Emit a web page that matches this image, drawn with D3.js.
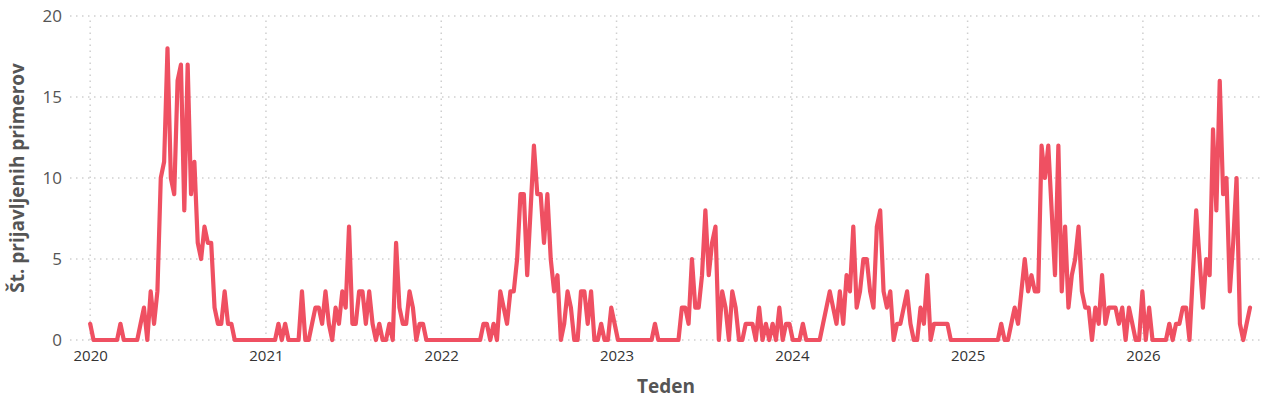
<!DOCTYPE html>
<meta charset="utf-8">
<html>
<head>
	<!-- Load d3.js -->
	<script src="https://d3js.org/d3.v7.min.js"></script>
	<style>
		body { margin: 0; background: #fff; }
		text { font-family: "Open Sans", "DejaVu Sans", sans-serif; }
	</style>
</head>
<body>

<div id="graf"></div>

<script>

// weekly case counts, one array per year (first week = 1 Jan 2020)
var w2020 = [1,0,0,0,0,0,0,0,0,1, 0,0,0,0,0,1,2,0,3,1, 3,10,11,18,10,9,16,17,8,17, 9,11,6,5,7,6,6,2,1,1, 3,1,1,0,0,0,0,0,0,0, 0,0,0];
var w2021 = [0,0,0,1,0,1,0,0,0,0, 3,0,0,1,2,2,1,3,1,0, 2,1,3,2,7,1,1,3,3,1, 3,1,0,1,0,0,1,0,6,2, 1,1,3,2,0,1,1,0,0,0, 0,0];
var w2022 = [0,0,0,0,0,0,0,0,0,0, 0,0,1,1,0,1,0,3,2,1, 3,3,5,9,9,4,8,12,9,9, 6,9,5,3,4,0,1,3,2,0, 0,3,3,1,3,0,0,1,0,0, 2,1];
var w2023 = [0,0,0,0,0,0,0,0,0,0, 0,1,0,0,0,0,0,0,0,2, 2,1,5,2,2,4,8,4,6,7, 0,3,2,0,3,2,0,0,1,1, 1,0,2,0,1,0,1,0,2,0, 1,1];
var w2024 = [0,0,0,1,0,0,0,0,0,1, 2,3,2,1,3,1,4,3,7,2, 3,5,5,3,2,7,8,3,2,3, 0,1,1,2,3,1,0,0,2,1, 4,0,1,1,1,1,1,0,0,0, 0,0];
var w2025 = [0,0,0,0,0,0,0,0,0,0, 1,0,0,1,2,1,3,5,3,4, 3,3,12,10,12,8,4,12,3,7, 2,4,5,7,3,2,2,0,2,1, 4,1,2,2,2,1,2,0,2,1, 0,0,3];
var w2026 = [0,2,0,0,0,0,0,1,0,1, 1,2,2,0,4,8,5,2,5,4, 13,8,16,9,10,3,6,10,1,0, 1,2];

var years = [2020, 2021, 2022, 2023, 2024, 2025, 2026];
var yTicks = [0, 5, 10, 15, 20];

var startDate = new Date(2020, 0, 1);
var values = [].concat(w2020, w2021, w2022, w2023, w2024, w2025, w2026);
var data = values.map(function(v, i) {
  return { date: d3.timeDay.offset(startDate, 7 * i), value: v };
});

var larghezza = 1277, altezza = 405;
var margin = {top: 16, right: 15, bottom: 65, left: 70};

var svg = d3.select("#graf")
  .append("svg")
    .attr("width", larghezza)
    .attr("height", altezza);

// X scale (time), a bit of padding on both sides
var x = d3.scaleTime()
  .domain([d3.timeDay.offset(startDate, -42), d3.timeDay.offset(data[data.length - 1].date, 25)])
  .range([margin.left, larghezza - margin.right]);

// Y scale
var y = d3.scaleLinear()
  .domain([0, 20])
  .range([altezza - margin.bottom, margin.top]);

// horizontal dotted grid
svg.append("g")
  .selectAll("line")
  .data(yTicks)
  .enter()
  .append("line")
    .attr("x1", x.range()[0])
    .attr("x2", x.range()[1])
    .attr("y1", function(d) { return y(d); })
    .attr("y2", function(d) { return y(d); })
    .attr("stroke", "#cfcfcf")
    .attr("stroke-width", 1.5)
    .attr("stroke-dasharray", "1.5,4.5");

// vertical dotted grid at each year
svg.append("g")
  .selectAll("line")
  .data(years)
  .enter()
  .append("line")
    .attr("x1", function(d) { return x(new Date(d, 0, 1)); })
    .attr("x2", function(d) { return x(new Date(d, 0, 1)); })
    .attr("y1", y(0))
    .attr("y2", y(20))
    .attr("stroke", "#cfcfcf")
    .attr("stroke-width", 1.5)
    .attr("stroke-dasharray", "1.5,4.5");

// Y axis labels
svg.append("g")
  .attr("transform", "translate(" + (margin.left - 8) + ",0)")
  .call(d3.axisLeft(y).tickValues(yTicks).tickSize(0).tickPadding(0))
  .call(function(g) { g.select(".domain").remove(); })
  .selectAll("text")
    .attr("fill", "#555")
    .style("font-size", "17px");

// X axis labels
svg.append("g")
  .attr("transform", "translate(0," + (y(0) + 10) + ")")
  .call(d3.axisBottom(x).tickValues(years.map(function(d) { return new Date(d, 0, 1); }))
    .tickFormat(d3.timeFormat("%Y")).tickSize(0).tickPadding(0))
  .call(function(g) { g.select(".domain").remove(); })
  .selectAll("text")
    .attr("fill", "#333")
    .style("font-size", "15px");

// the line
var linea = d3.line()
  .x(function(d) { return x(d.date); })
  .y(function(d) { return y(d.value); });

svg.append("path")
  .datum(data)
  .attr("fill", "none")
  .attr("stroke", "#ef5062")
  .attr("stroke-width", 4.2)
  .attr("stroke-linejoin", "round")
  .attr("stroke-linecap", "round")
  .attr("d", linea);

// axis titles
svg.append("text")
  .attr("x", (x.range()[0] + x.range()[1]) / 2)
  .attr("y", 393)
  .attr("text-anchor", "middle")
  .attr("fill", "#555")
  .style("font-size", "19px")
  .style("font-weight", "bold")
  .text("Teden");

svg.append("text")
  .attr("transform", "translate(24," + ((y(0) + y(20)) / 2) + ") rotate(-90)")
  .attr("text-anchor", "middle")
  .attr("fill", "#555")
  .style("font-size", "19px")
  .style("font-weight", "bold")
  .text("Št. prijavljenih primerov");

</script>

</body>
</html>
